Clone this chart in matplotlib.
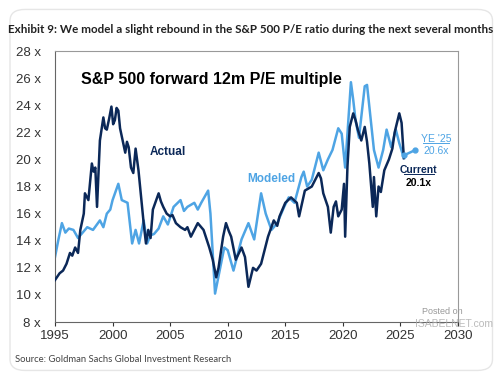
import matplotlib
matplotlib.use("Agg")
import matplotlib.pyplot as plt
from matplotlib.patches import FancyBboxPatch
from matplotlib import font_manager

# ---- data ----
actual_years = [1995.0, 1995.4, 1995.7, 1996.0, 1996.3, 1996.5, 1996.75, 1997.0, 1997.2, 1997.5, 1997.6,
                1997.9, 1998.2, 1998.35, 1998.5, 1998.65, 1998.9, 1999.2, 1999.35, 1999.5, 1999.7, 1999.9,
                2000.05, 2000.2, 2000.35, 2000.5, 2000.65, 2000.8, 2001.1, 2001.25, 2001.4, 2001.6,
                2001.8, 2002.0, 2002.25, 2002.7, 2002.9, 2003.1, 2003.3, 2003.5,
                2004.0, 2004.2, 2004.4, 2004.7, 2005.0, 2005.2, 2005.5, 2005.9, 2006.3, 2006.5,
                2006.8, 2007.1, 2007.4, 2007.6, 2007.9, 2008.4,
                2008.7, 2009.0, 2009.2, 2009.6, 2009.85, 2010.1, 2010.3, 2010.7, 2011.2, 2011.5, 2011.8,
                2012.2, 2012.5, 2012.9, 2013.2, 2013.5, 2014.0, 2014.3, 2014.5, 2015.0, 2015.5, 2016.0,
                2016.2, 2016.7, 2017.3,
                2017.9, 2018.1, 2018.3, 2018.7, 2018.95, 2019.2, 2019.4, 2019.6, 2019.9, 2020.1, 2020.2,
                2020.4, 2020.6, 2020.9,
                2021.1, 2021.3, 2021.6, 2021.9, 2022.1, 2022.3, 2022.6, 2022.7, 2022.9, 2023.1, 2023.3,
                2023.6, 2024.0,
                2024.3, 2024.5, 2024.9, 2025.1, 2025.3]
actual_pe = [11.1, 11.6, 11.8, 12.3, 13.1, 12.9, 13.5, 13.1, 14.8, 16.0, 17.5,
             17.0, 19.7, 19.1, 19.4, 16.5, 21.4, 23.1, 22.3, 22.2, 23.0, 23.9,
             22.6, 22.9, 23.8, 23.6, 22.3, 21.7, 20.5, 21.3, 20.9, 19.4,
             19.0, 20.8, 19.2, 15.3, 13.8, 14.8, 14.2, 16.3,
             17.5, 16.9, 16.5, 16.0, 15.8, 15.9, 15.3, 15.0, 14.8, 15.0,
             14.3, 14.8, 15.3, 15.1, 14.8, 13.5,
             12.6, 11.3, 12.0, 14.3, 15.3, 14.7, 14.3, 12.6, 13.5, 12.8, 10.6,
             12.0, 11.8, 12.3, 13.3, 14.3, 15.5, 15.1, 15.8, 16.8, 17.2, 16.8,
             15.8, 17.7, 18.0,
             19.0, 18.6, 17.5, 16.5, 14.6, 16.5, 16.9, 15.8, 16.3, 18.2, 14.3,
             19.5, 22.4, 23.4,
             22.9, 22.2, 21.4, 22.4, 21.3, 19.7, 16.5, 18.7, 15.8, 18.0, 17.6,
             19.2, 20.0,
             20.8, 22.0, 23.4, 22.7, 20.1]

modeled_years = [1995.0, 1995.3, 1995.6, 1995.9, 1996.2, 1996.6, 1997.0, 1997.4, 1997.8, 1998.3, 1998.9, 1999.2,
                 1999.5, 1999.8,
                 2000.0, 2000.5, 2000.8, 2001.3, 2001.7, 2002.0, 2002.3, 2002.7, 2003.0, 2003.3, 2003.6,
                 2004.0, 2004.4, 2004.8, 2005.3, 2005.9, 2006.2, 2006.5, 2007.1, 2007.4, 2007.7, 2008.3,
                 2008.5, 2008.9, 2009.3,
                 2009.7, 2010.0, 2010.5, 2011.2, 2011.8, 2012.3, 2012.9, 2013.3, 2013.8, 2014.3,
                 2014.9, 2015.3, 2015.8, 2016.4, 2016.6, 2016.9, 2017.3, 2017.9, 2018.3, 2018.7,
                 2019.1, 2019.6, 2019.9, 2020.2, 2020.7, 2020.9, 2021.1, 2021.4, 2021.9, 2022.1,
                 2022.3, 2022.7, 2023.1, 2023.5, 2023.8, 2024.2, 2024.6, 2024.9, 2025.3]
modeled_pe = [12.8, 14.1, 15.3, 14.6, 14.9, 14.8, 14.2, 14.6, 15.0, 14.8, 15.5, 15.0,
              16.0, 16.3,
              17.0, 18.2, 17.0, 16.8, 13.8, 14.8, 13.8, 15.5, 13.8, 14.4, 14.5,
              14.9, 15.8, 15.2, 16.5, 17.0, 16.2, 16.5, 16.8, 16.3, 16.8, 17.7,
              16.0, 10.1, 11.8,
              13.5, 13.3, 11.8, 14.1, 15.3, 14.1, 17.5, 16.0, 14.8, 15.3,
              16.5, 17.2, 16.8, 18.7, 19.1, 18.0, 18.5, 20.5, 19.2, 20.0,
              20.7, 22.3, 21.9, 19.4, 25.7, 24.4, 22.9, 21.6, 25.4, 25.5,
              23.9, 20.7, 19.4, 20.7, 22.2, 20.9, 22.2, 21.2, 20.1]

proj_years = [2025.3, 2026.3]
proj_pe = [20.3, 20.7]

x_ticks = [1995, 2000, 2005, 2010, 2015, 2020, 2025, 2030]
y_ticks = [8, 10, 12, 14, 16, 18, 20, 22, 24, 26, 28]
y_labels = [f"{v} x" for v in y_ticks]

NAVY = "#0b2858"
LIGHT = "#4ea4e4"

names = {f.name for f in font_manager.fontManager.ttflist}
NARROW = "Liberation Sans Narrow" if "Liberation Sans Narrow" in names else "Lato"

fig = plt.figure(figsize=(5, 3.78), dpi=100)
fig.patch.set_facecolor("white")

card = FancyBboxPatch((0.02, 0.02), 0.965, 0.955, boxstyle="round,pad=0,rounding_size=0.03",
                      transform=fig.transFigure, facecolor="white", edgecolor="#e6e6e6",
                      linewidth=1.0, zorder=-10)
fig.patches.append(card)

ax = fig.add_axes([0.11, 0.148, 0.806, 0.717])
ax.plot(modeled_years, modeled_pe, color=LIGHT, lw=1.8, zorder=2)
ax.plot(actual_years, actual_pe, color=NAVY, lw=1.8, zorder=3)
ax.plot(proj_years, proj_pe, color=LIGHT, lw=1.8, marker="o", markersize=3.5, zorder=4)

ax.set_xlim(1995, 2030)
ax.set_ylim(8, 28)
ax.set_xticks(x_ticks)
ax.set_xticklabels([str(t) for t in x_ticks])
ax.set_yticks(y_ticks)
ax.set_yticklabels(y_labels)
ax.tick_params(axis="x", labelsize=9.5, colors="#333333", length=3, width=0.8, pad=3,
               direction="out")
ax.tick_params(axis="y", labelsize=9.5, colors="#333333", length=0, pad=10)
for lab in ax.get_xticklabels() + ax.get_yticklabels():
    lab.set_fontfamily("Liberation Sans")
for s in ax.spines.values():
    s.set_color("#999999")
    s.set_linewidth(0.8)
ax.spines["bottom"].set_color("#666666")
ax.spines["left"].set_color("#666666")

ax.text(1997.3, 25.6, "S&P 500 forward 12m P/E multiple", fontsize=11.5, fontweight="bold",
        family="Liberation Sans", color="black")
ax.text(2003.2, 20.3, "Actual", fontsize=8.5, fontweight="bold", family="Liberation Sans",
        color=NAVY)
ax.text(2011.7, 18.3, "Modeled", fontsize=8.5, fontweight="bold", family="Liberation Sans",
        color=LIGHT)
ax.text(2028.1, 21.3, "YE '25", fontsize=7.5, family="Liberation Sans", color=LIGHT,
        ha="center")
ax.plot([2027.0, 2029.2], [21.22, 21.22], color=LIGHT, lw=0.7, clip_on=False)
ax.text(2028.1, 20.4, "20.6x", fontsize=7.5, family="Liberation Sans", color=LIGHT,
        ha="center")
ax.text(2026.6, 19.0, "Current", fontsize=7.5, fontweight="bold", family="Liberation Sans",
        color=NAVY, ha="center")
ax.plot([2025.3, 2027.9], [18.92, 18.92], color=NAVY, lw=0.7, clip_on=False)
ax.text(2026.6, 18.05, "20.1x", fontsize=7.5, fontweight="bold", family="Liberation Sans",
        color="black", ha="center")

title = fig.text(0.016, 0.912,
                 "Exhibit 9: We model a slight rebound in the S&P 500 P/E ratio during the next several months",
                 fontsize=10, fontweight="bold", family=NARROW, color="#222222")
source = fig.text(0.03, 0.043, "Source: Goldman Sachs Global Investment Research", fontsize=8,
                  family=NARROW, color="#444444")
fig.text(0.845, 0.168, "Posted on", fontsize=6.5, family="Liberation Sans", color="#999999")
fig.text(0.83, 0.135, "ISABELNET.com", fontsize=7.5, family="Liberation Sans", color="#aaaaaa",
         alpha=0.8)

# fit text widths to the reference widths (pixels)
fig.canvas.draw()
rend = fig.canvas.get_renderer()
for t, target in ((title, 482.0), (source, 217.0)):
    w = t.get_window_extent(rend).width
    t.set_fontsize(t.get_fontsize() * target / w)

fig.savefig("out.png", dpi=100, facecolor="white")
